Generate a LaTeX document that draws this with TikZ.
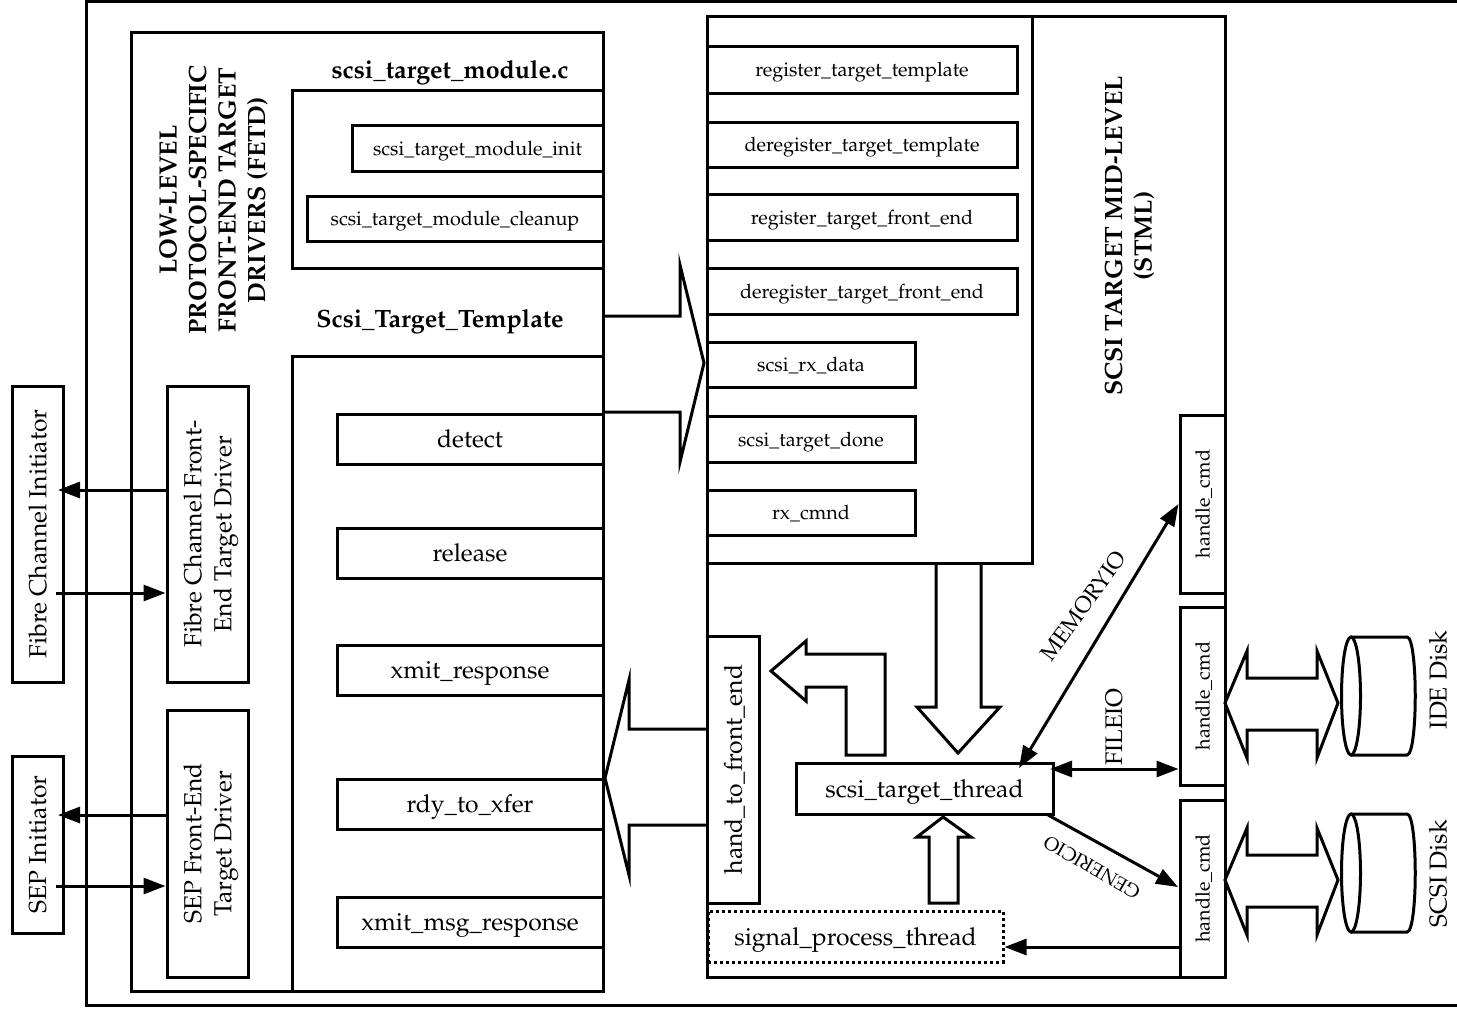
\documentclass[tikz,border=0pt]{standalone}
\usepackage[T1]{fontenc}
\usepackage{mathpazo}
\usetikzlibrary{arrows.meta,calc}
\tikzset{
  boxnode/.style={draw,line width=3pt,inner sep=0pt,align=center,text depth=0pt,font=\fontsize{19.8}{30}\selectfont},
  bigbox/.style={boxnode,font=\fontsize{24.7}{30}\selectfont},
  titlenode/.style={inner sep=0pt,align=center,text depth=0pt,font=\bfseries\fontsize{25}{29.5}\selectfont},
  plainlabel/.style={inner sep=0pt,font=\fontsize{22.5}{24}\selectfont},
  link/.style={line width=3pt,-{Triangle[length=22pt,width=16pt]}},
  twoway/.style={line width=3pt,{Triangle[length=22pt,width=16pt]}-{Triangle[length=22pt,width=16pt]}},
  hollow/.style={line width=3pt,miter limit=20},
}
\begin{document}
\begin{tikzpicture}[x=1pt,y=-1pt]
      \useasboundingbox (0,0) rectangle (1457,1013);
      \draw[line width=3pt] (1457,1) -- (86,1) -- (86,1005) -- (1457,1005);
      \node[boxnode,minimum width=472pt,minimum height=959pt] (fetd) at (367,511.5) {};
      \node[boxnode,minimum width=311pt,minimum height=178pt] (module) at (447.5,179) {};
      \node[boxnode,minimum width=311pt,minimum height=635pt] (template) at (447.5,673.5) {};
      \node[boxnode,minimum width=251pt,minimum height=46pt] (modinit) at (477.5,148) {scsi\_target\_module\_init};
      \node[boxnode,minimum width=296pt,minimum height=45pt] (modclean) at (455,218.5) {scsi\_target\_module\_cleanup};
      \node[titlenode] (modtitle) at (450,69) {scsi\_target\_module.c};
      \node[titlenode] (tpltitle) at (440,318) {Scsi\_Target\_Template};
      \node[titlenode,rotate=90] (fetdtitle) at (212,200) {LOW-LEVEL\\PROTOCOL-SPECIFIC\\FRONT-END TARGET\\DRIVERS (FETD)};
      \node[bigbox,minimum width=266pt,minimum height=50pt] (detect) at (470,439) {detect};
      \node[bigbox,minimum width=266pt,minimum height=50pt] (release) at (470,553) {release};
      \node[bigbox,minimum width=266pt,minimum height=50pt] (xmitresp) at (470,670) {xmit\_response};
      \node[bigbox,minimum width=266pt,minimum height=50pt] (rdyxfer) at (470,804) {rdy\_to\_xfer};
      \node[bigbox,minimum width=266pt,minimum height=50pt] (xmitmsg) at (470,922) {xmit\_msg\_response};
      \node[bigbox,rotate=90,minimum width=296pt,minimum height=81pt] (fcdrv) at (207.5,534) {Fibre Channel Front-\\End Target Driver};
      \node[bigbox,rotate=90,minimum width=267pt,minimum height=81pt] (sepdrv) at (207.5,843.5) {SEP Front-End\\Target Driver};
      \node[bigbox,rotate=90,minimum width=296pt,minimum height=51pt] (fcinit) at (37.5,534) {Fibre Channel Initiator};
      \node[bigbox,rotate=90,minimum width=177pt,minimum height=51pt] (sepinit) at (37.5,844.5) {SEP Initiator};
      \node[boxnode,minimum width=518pt,minimum height=961pt] (stml) at (966,496.5) {};
      \node[boxnode,minimum width=325pt,minimum height=547pt] (stmlapi) at (869.5,289.5) {};
      \node[boxnode,minimum width=310pt,minimum height=47pt] (regtpl) at (862,69.5) {register\_target\_template};
      \node[boxnode,minimum width=310pt,minimum height=45pt] (deregtpl) at (862,144.5) {deregister\_target\_template};
      \node[boxnode,minimum width=310pt,minimum height=46pt] (regfe) at (862,217) {register\_target\_front\_end};
      \node[boxnode,minimum width=310pt,minimum height=46pt] (deregfe) at (862,291) {deregister\_target\_front\_end};
      \node[boxnode,minimum width=208pt,minimum height=45pt] (rxdata) at (811,364.5) {scsi\_rx\_data};
      \node[boxnode,minimum width=208pt,minimum height=46pt] (tgtdone) at (811,439) {scsi\_target\_done};
      \node[boxnode,minimum width=208pt,minimum height=45pt] (rxcmnd) at (811,512.5) {rx\_cmnd};
      \node[titlenode,rotate=90] (stmltitle) at (1128,236) {SCSI TARGET MID-LEVEL\\(STML)};
      \node[boxnode,rotate=90,minimum width=178pt,minimum height=45pt] (memcmd) at (1202.5,504) {handle\_cmd};
      \node[boxnode,rotate=90,minimum width=178pt,minimum height=45pt] (filecmd) at (1202.5,696) {handle\_cmd};
      \node[boxnode,rotate=90,minimum width=177pt,minimum height=45pt] (gencmd) at (1202.5,888.5) {handle\_cmd};
      \node[bigbox,rotate=90,minimum width=267pt,minimum height=52pt] (handfe) at (733,769.5) {hand\_to\_front\_end};
      \node[bigbox,minimum width=257pt,minimum height=51pt] (thread) at (924.5,788.5) {scsi\_target\_thread};
      \node[bigbox,dash pattern=on 3pt off 3pt,minimum width=295pt,minimum height=51pt] (sigproc) at (855.5,936.5) {signal\_process\_thread};
      \draw[hollow] (603,316) -- (680,316) -- (680,265) -- (704,363) -- (680,462) -- (680,412) -- (603,412);
      \draw[hollow] (707,729) -- (629,729) -- (629,680) -- (605,778) -- (629,875) -- (629,825) -- (707,825);
      \draw[hollow] (936,563) -- (936,707) -- (917,707) -- (958,753) -- (1000,707) -- (981,707) -- (981,563);
      \draw[hollow] (771,671) -- (806,641) -- (806,654) -- (885,654) -- (885,755) -- (846,755) -- (846,687) -- (806,687) -- (806,701) -- cycle;
      \draw[hollow] (943,817) -- (971,837) -- (958,837) -- (958,903) -- (929,903) -- (929,837) -- (917,837) -- cycle;
      \coordinate (fcout) at (58,490);
      \coordinate (fcin) at (56,593);
      \coordinate (sepout) at (58,815);
      \coordinate (sepin) at (56,886);
      \draw[link] (fcdrv.north |- fcout) -- (fcout);
      \draw[link] (fcin) -- (fcdrv.north |- fcin);
      \draw[link] (sepdrv.north |- sepout) -- (sepout);
      \draw[link] (sepin) -- (sepdrv.north |- sepin);
      \coordinate (memtip) at (1019,768);
      \coordinate (filetip) at (1050,769);
      \coordinate (genstart) at (1048,815);
      \coordinate (gentip) at (1178,887);
      \coordinate (sigstart) at (1180,947);
      \draw[twoway] (memtip) -- (memcmd.north);
      \draw[twoway] (filetip) -- (filecmd.north |- filetip);
      \draw[link] (genstart) -- (gentip);
      \draw[link] (sigstart) -- (sigproc.east |- sigstart);
      \node[plainlabel,rotate=54] (memlabel) at (1083,606) {MEMORYIO};
      \node[plainlabel,rotate=90,font=\fontsize{24}{24}\selectfont] (filelabel) at (1114,727) {FILEIO};
      \node[plainlabel,rotate=150,font=\fontsize{19}{20}\selectfont] (genlabel) at (1092,867) {GENERICIO};
      \draw[hollow] (1225,703) -- (1247,651) -- (1247,678) -- (1317,678) -- (1317,651) -- (1338,703) -- (1317,758) -- (1317,730) -- (1247,730) -- (1247,758) -- cycle;
      \draw[hollow] (1225,880) -- (1247,828) -- (1247,855) -- (1317,855) -- (1317,828) -- (1338,880) -- (1317,935) -- (1317,907) -- (1247,907) -- (1247,935) -- cycle;
      \draw[line width=3pt] (1351,637) -- (1407,637) .. controls (1418,637) and (1418,755) .. (1407,755) -- (1351,755);
      \draw[line width=3pt] (1351,696) ellipse [x radius=9.5pt,y radius=59pt];
      \draw[line width=3pt] (1351,814) -- (1407,814) .. controls (1418,814) and (1418,932) .. (1407,932) -- (1351,932);
      \draw[line width=3pt] (1351,873) ellipse [x radius=9.5pt,y radius=59pt];
      \node[plainlabel,rotate=90,font=\fontsize{24.5}{24}\selectfont] (idelabel) at (1438,680) {IDE Disk};
      \node[plainlabel,rotate=90,font=\fontsize{24.5}{24}\selectfont] (scsilabel) at (1438,874) {SCSI Disk};
    \end{tikzpicture}
\end{document}
